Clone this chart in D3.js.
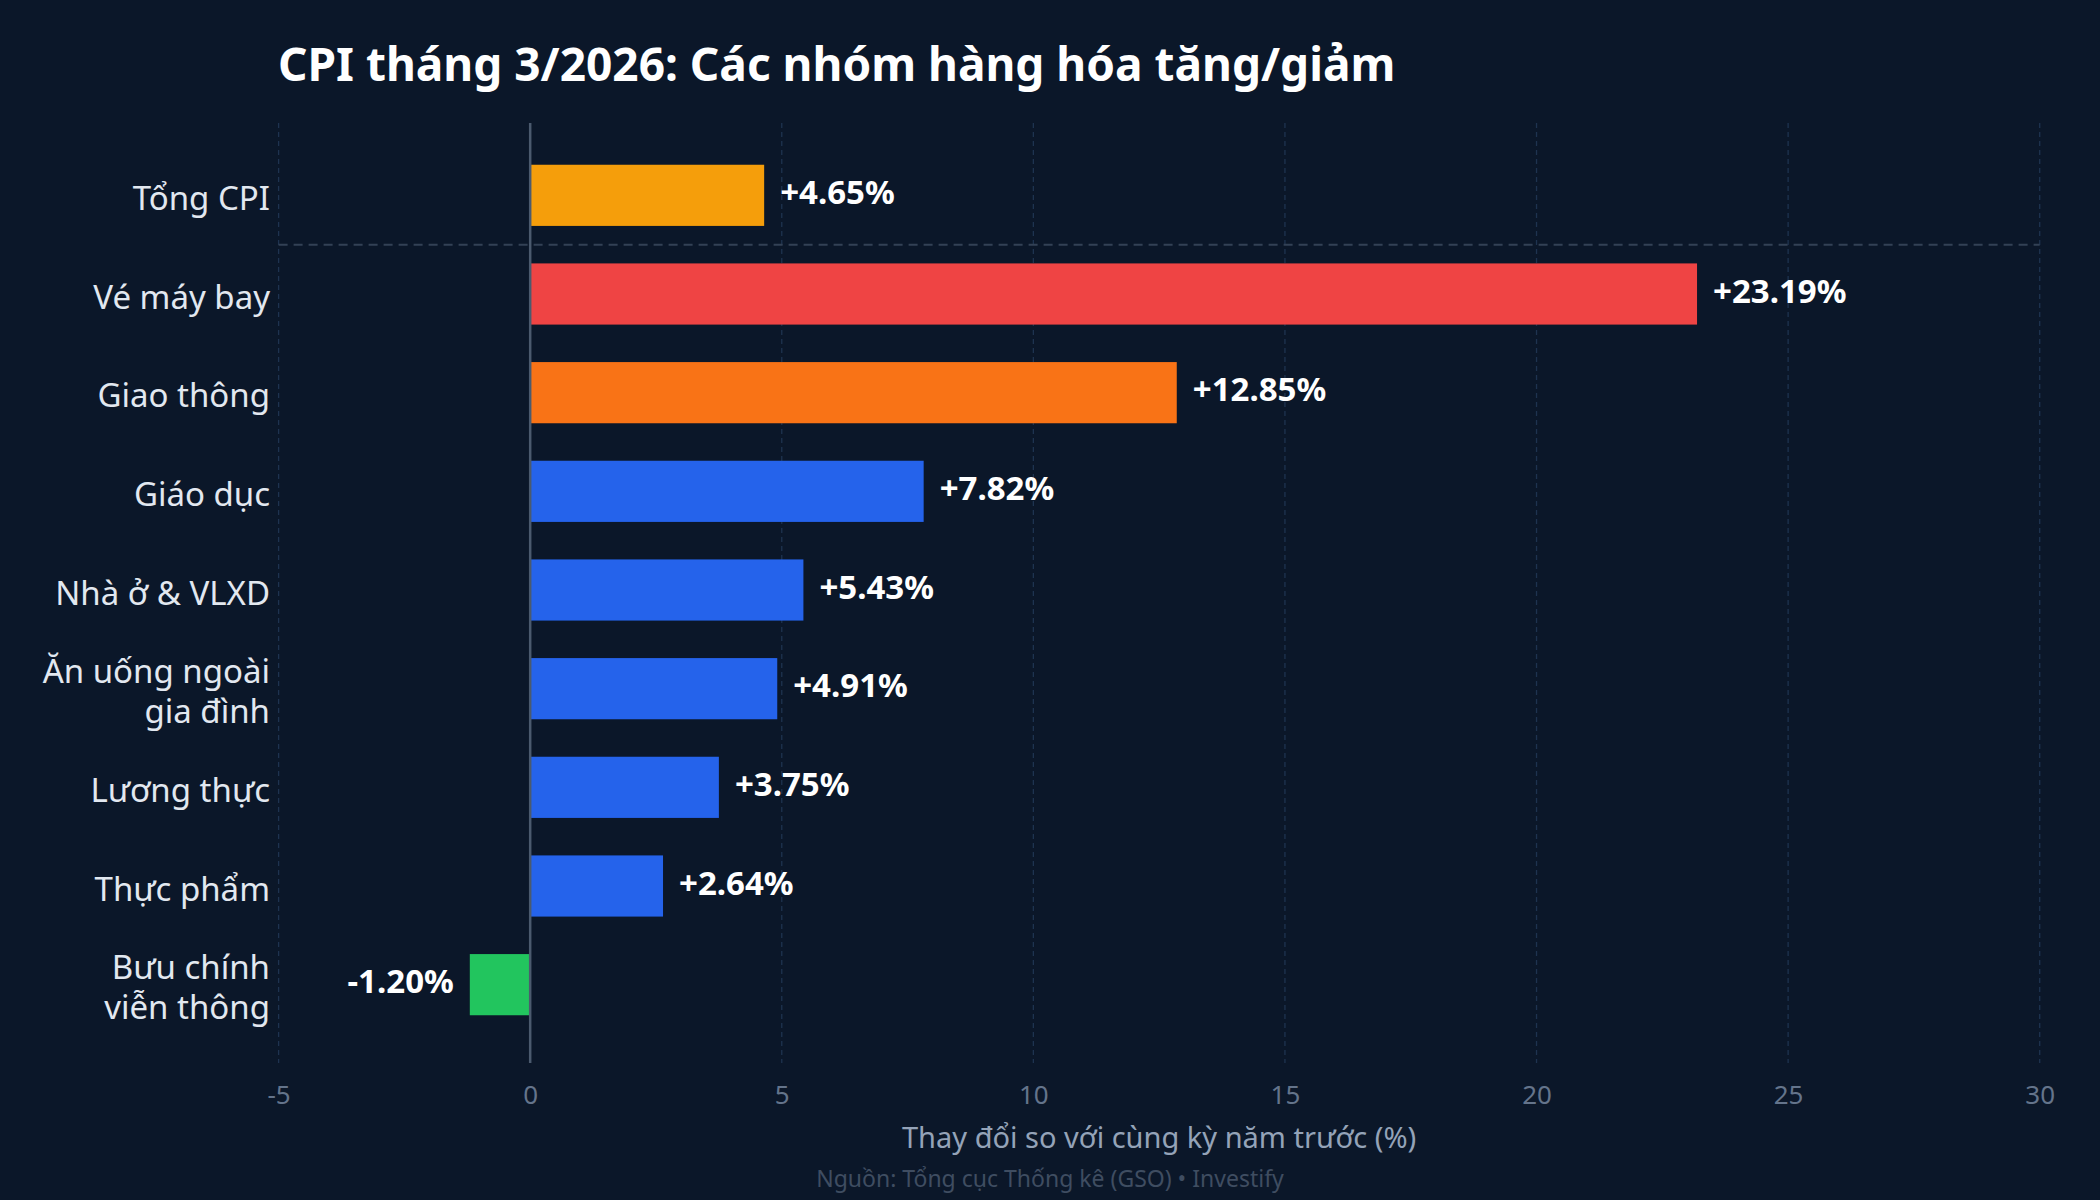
<!DOCTYPE html>
<html>
<head>
<meta charset="utf-8">
<script src="https://cdn.jsdelivr.net/npm/d3@7"></script>
<style>
html,body{margin:0;padding:0;background:#0b1729;}
svg{display:block;}
</style>
</head>
<body>
<svg id="chart" width="2100" height="1200"></svg>
<script>
const categories = ["Tổng CPI", "Vé máy bay", "Giao thông", "Giáo dục", "Nhà ở & VLXD", "Ăn uống ngoài|gia đình", "Lương thực", "Thực phẩm", "Bưu chính|viễn thông"];
const values = [4.65, 23.19, 12.85, 7.82, 5.43, 4.91, 3.75, 2.64, -1.20];
const barColors = ["#f59e0b", "#ef4444", "#f97316", "#2563eb", "#2563eb", "#2563eb", "#2563eb", "#2563eb", "#22c55e"];
const xTicks = [-5, 0, 5, 10, 15, 20, 25, 30];
const titleText = "CPI tháng 3/2026: Các nhóm hàng hóa tăng/giảm";
const xAxisTitle = "Thay đổi so với cùng kỳ năm trước (%)";
const sourceText = "Nguồn: Tổng cục Thống kê (GSO) • Investify";

const W = 2100, H = 1200;
const plot = {left: 278.6, right: 2039.7, top: 123, bottom: 1058};
const font = "'Noto Sans', 'Open Sans', sans-serif";

const svg = d3.select("#chart");
svg.append("rect").attr("width", W).attr("height", H).attr("fill", "#0b1729");

const x = d3.scaleLinear().domain([-5, 30]).range([plot.left, plot.right]);
const y = d3.scaleBand().domain(categories).range([146, 1034]).paddingInner(0.38).paddingOuter(0.19);

// grid
svg.append("g").selectAll("line").data(xTicks.filter(d => d !== 0)).join("line")
  .attr("x1", d => x(d)).attr("x2", d => x(d))
  .attr("y1", plot.top).attr("y2", plot.bottom + 5)
  .attr("stroke", "#1e3350").attr("stroke-width", 1.3).attr("stroke-dasharray", "5,4");

// separator after total
const sepY = y(categories[0]) + y.step() - (y.step() - y.bandwidth()) / 2;
svg.append("line")
  .attr("x1", plot.left).attr("x2", plot.right)
  .attr("y1", sepY).attr("y2", sepY)
  .attr("stroke", "#334155").attr("stroke-width", 2).attr("stroke-dasharray", "9,6");

// bars
svg.append("g").selectAll("rect").data(values).join("rect")
  .attr("x", d => x(Math.min(0, d)))
  .attr("width", d => Math.abs(x(d) - x(0)))
  .attr("y", (d, i) => y(categories[i]))
  .attr("height", y.bandwidth())
  .attr("fill", (d, i) => barColors[i]);

// zero line
svg.append("line")
  .attr("x1", x(0)).attr("x2", x(0))
  .attr("y1", plot.top).attr("y2", plot.bottom + 5)
  .attr("stroke", "#4b5a6e").attr("stroke-width", 2.5);

// value labels
svg.append("g").selectAll("text").data(values).join("text")
  .attr("x", d => d >= 0 ? x(d) + 16 : x(d) - 16)
  .attr("y", (d, i) => y(categories[i]) + y.bandwidth() / 2 - 3)
  .attr("dy", "0.35em")
  .attr("text-anchor", d => d >= 0 ? "start" : "end")
  .attr("fill", "#ffffff").attr("font-family", font).attr("font-weight", 700).attr("font-size", 33)
  .text(d => (d >= 0 ? "+" : "") + d.toFixed(2) + "%");

// category labels
const catG = svg.append("g");
categories.forEach((c, i) => {
  const lines = c.split("|");
  const cy = y(c) + y.bandwidth() / 2 + 3;
  const lh = 40;
  const t = catG.append("text")
    .attr("text-anchor", "end")
    .attr("fill", "#e2e8f0").attr("font-family", font).attr("font-size", 33);
  lines.forEach((ln, j) => {
    t.append("tspan").attr("x", 270)
      .attr("y", cy + (j - (lines.length - 1) / 2) * lh)
      .attr("dy", "0.35em").text(ln);
  });
});

// x axis
const xAxis = d3.axisBottom(x).tickValues(xTicks).tickSize(0).tickPadding(0).tickFormat(d => String(d));
const ax = svg.append("g").attr("transform", `translate(0,${plot.bottom})`).call(xAxis);
ax.select(".domain").remove();
ax.selectAll("text").attr("y", 37).attr("dy", "0.35em")
  .attr("fill", "#64748b").attr("font-family", font).attr("font-size", 26);

// title
svg.append("text").attr("x", 278).attr("y", 81)
  .attr("fill", "#ffffff").attr("font-family", font).attr("font-weight", 700).attr("font-size", 46)
  .text(titleText);

// axis title
svg.append("text").attr("x", (plot.left + plot.right) / 2).attr("y", 1148)
  .attr("text-anchor", "middle").attr("fill", "#94a3b8").attr("font-family", font).attr("font-size", 29)
  .text(xAxisTitle);

// source
svg.append("text").attr("x", W / 2).attr("y", 1187)
  .attr("text-anchor", "middle").attr("fill", "#3f4d61").attr("font-family", font).attr("font-size", 23)
  .text(sourceText);
</script>
</body>
</html>
